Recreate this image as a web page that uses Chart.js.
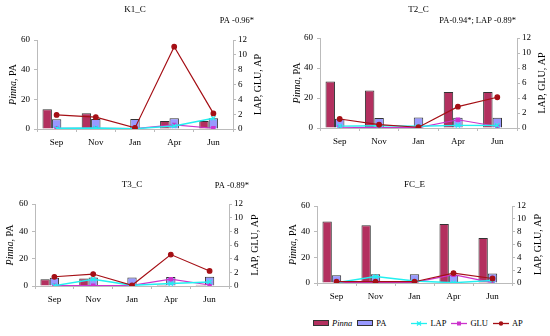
<!DOCTYPE html>
<html lang="en">
<head>
<meta charset="UTF-8">
<script src="https://cdn.jsdelivr.net/npm/chart.js"></script>
<title>Pinna, PA, LAP, GLU, AP</title>
<style>
  body { margin: 0; background: #fff; }
  #wrap { position: relative; width: 550px; height: 336px; }
  canvas { position: absolute; }
  #legend { position: absolute; left: 313px; top: 318px; display: flex; align-items: center;
            font: 8.5px "Liberation Serif", serif; color: #000; }
  #legend .item { display: flex; align-items: center; margin-right: 5px; }
  #legend .gap { width: 20px; }
</style>
</head>
<body>
<div id="wrap">
  <canvas id="c1" width="275" height="155" style="left:0;top:0"></canvas>
  <canvas id="c2" width="275" height="155" style="left:275px;top:0"></canvas>
  <canvas id="c3" width="275" height="150" style="left:0;top:160px"></canvas>
  <canvas id="c4" width="275" height="150" style="left:275px;top:160px"></canvas>
  <div id="legend"></div>
</div>
<script>
// months sampled
const months = ['Sep', 'Nov', 'Jan', 'Apr', 'Jun'];

// K1_C
const k1Pinna = [13.3, 10.6, 0, 5.4, 5.4];
const k1PA = [6.5, 6.8, 6.7, 7.2, 7.3];
const k1LAP = [0.1, 0.15, 0.05, 0.4, 1.45];
const k1GLU = [0.1, 0.1, 0.05, 0.55, 0.1];
const k1AP = [1.9, 1.6, 0.15, 11.1, 2.1];

// T2_C
const t2Pinna = [31, 25, 0, 24, 24];
const t2PA = [6.2, 6.6, 7, 6.8, 6.8];
const t2LAP = [0.25, 0.3, 0.25, 0.35, 0.35];
const t2GLU = [0.1, 0.05, 0.05, 1.1, 0.2];
const t2AP = [1.2, 0.45, 0.1, 2.85, 4.1];

// T3_C
const t3Pinna = [4.9, 5.5, 0, 1, 1];
const t3PA = [6, 6.3, 6.3, 6.5, 6.7];
const t3LAP = [0.05, 1.0, 0.1, 0.35, 0.6];
const t3GLU = [0.05, 0.05, 0.1, 1.0, 0.15];
const t3AP = [1.35, 1.75, 0.1, 4.6, 2.2];

// FC_E
const fcPinna = [48, 45, 0, 46, 35];
const fcPA = [6, 6.8, 6.8, 6.3, 7.5];
const fcLAP = [0.05, 1.0, 0.3, 0.05, 0.4];
const fcGLU = [0.05, 0.05, 0.1, 1.3, 0.05];
const fcAP = [0.2, 0.2, 0.2, 1.55, 0.7];

const colors = {
    pinna: '#B3305F',
    pa: '#9999FF',
    lap: '#22F0F0',
    glu: '#CC33CC',
    ap: '#A50F15'
};
const axisGray = '#BBBBBB';
const fontFamily = '"Liberation Serif", serif';

// draws panel title, correlation note and the two rotated axis titles
const panelText = {
    id: 'panelText',
    afterDraw(chart, args, o) {
        const ctx = chart.ctx;
        const a = chart.chartArea;
        const midY = (a.top + a.bottom) / 2;
        ctx.save();
        ctx.fillStyle = '#000';
        ctx.textBaseline = 'middle';
        ctx.font = '9px ' + fontFamily;
        ctx.textAlign = 'center';
        ctx.fillText(o.title, (a.left + a.right) / 2, o.titleY);
        if (o.note) {
            ctx.font = '8.5px ' + fontFamily;
            ctx.textAlign = 'right';
            ctx.fillText(o.note, o.noteX, o.noteY);
        }
        // left title: "Pinna" italic + ", PA"
        ctx.save();
        ctx.translate(o.leftX, midY);
        ctx.rotate(-Math.PI / 2);
        ctx.textAlign = 'left';
        const italic = 'italic 10px ' + fontFamily;
        const normal = '10px ' + fontFamily;
        ctx.font = italic;
        const w1 = ctx.measureText('Pinna').width;
        ctx.font = normal;
        const w2 = ctx.measureText(', PA').width;
        const x0 = -(w1 + w2) / 2;
        ctx.font = italic;
        ctx.fillText('Pinna', x0, 0);
        ctx.font = normal;
        ctx.fillText(', PA', x0 + w1, 0);
        ctx.restore();
        // right title, reads bottom to top
        ctx.save();
        ctx.translate(o.rightX, midY);
        ctx.rotate(-Math.PI / 2);
        ctx.textAlign = 'center';
        ctx.font = normal;
        ctx.fillText('LAP, GLU, AP', 0, 0);
        ctx.restore();
        ctx.restore();
    }
};

function makePanel(id, box, text, pinna, pa, lap, glu, ap) {
    const cv = document.getElementById(id);
    const W = cv.width, H = cv.height;
    return new Chart(cv, {
        type: 'bar',
        data: {
            labels: months,
            datasets: [
                { label: 'Pinna', data: pinna, backgroundColor: colors.pinna, borderColor: '#333',
                  borderWidth: 1, yAxisID: 'y', order: 2 },
                { label: 'PA', data: pa, backgroundColor: colors.pa, borderColor: '#333',
                  borderWidth: 1, yAxisID: 'y', order: 2 },
                // empty slot so PA sits on the category centre, like the original
                { label: '', data: [null, null, null, null, null], yAxisID: 'y', order: 2 },
                { type: 'line', label: 'LAP', data: lap, borderColor: colors.lap, backgroundColor: colors.lap,
                  borderWidth: 1.5, pointStyle: 'crossRot', pointRadius: 3, pointBorderWidth: 1.2,
                  yAxisID: 'y2', order: 1 },
                { type: 'line', label: 'GLU', data: glu, borderColor: colors.glu, backgroundColor: colors.glu,
                  borderWidth: 1.2, pointStyle: 'rect', pointRadius: 2.3, yAxisID: 'y2', order: 1 },
                { type: 'line', label: 'AP', data: ap, borderColor: colors.ap, backgroundColor: colors.ap,
                  borderWidth: 1.2, pointStyle: 'circle', pointRadius: 2.3, yAxisID: 'y2', order: 0 }
            ]
        },
        options: {
            responsive: false,
            animation: false,
            layout: { padding: { top: box.top, left: 0, right: 0, bottom: 0 } },
            datasets: { bar: { categoryPercentage: 0.72, barPercentage: 1 } },
            plugins: {
                legend: { display: false },
                tooltip: { enabled: false },
                panelText: text
            },
            scales: {
                x: {
                    grid: { drawOnChartArea: false, color: axisGray, tickLength: 3 },
                    border: { color: axisGray },
                    ticks: { color: '#000', font: { family: fontFamily, size: 9 }, padding: 5 },
                    afterFit(s) { s.height = H - box.bottom; }
                },
                y: {
                    position: 'left', min: 0, max: 60,
                    grid: { drawOnChartArea: false, color: axisGray, tickLength: 3 },
                    border: { color: axisGray },
                    ticks: { stepSize: 20, autoSkip: false, color: '#000',
                             font: { family: fontFamily, size: 9 }, padding: 4 },
                    afterFit(s) { s.width = box.left; }
                },
                y2: {
                    position: 'right', min: 0, max: 12,
                    grid: { drawOnChartArea: false, color: axisGray, tickLength: 3 },
                    border: { color: axisGray },
                    ticks: { stepSize: 2, autoSkip: false, color: '#000',
                             font: { family: fontFamily, size: 9 }, padding: 2 },
                    afterFit(s) { s.width = W - box.right; }
                }
            }
        },
        plugins: [panelText]
    });
}

makePanel('c1', { left: 37, right: 233, top: 40, bottom: 129 },
    { title: 'K1_C', titleY: 10, note: 'PA -0.96*', noteX: 254, noteY: 21, leftX: 13, rightX: 258 },
    k1Pinna, k1PA, k1LAP, k1GLU, k1AP);
makePanel('c2', { left: 45, right: 242, top: 38, bottom: 128 },
    { title: 'T2_C', titleY: 10, note: 'PA-0.94*; LAP -0.89*', noteX: 241, noteY: 21, leftX: 22, rightX: 267 },
    t2Pinna, t2PA, t2LAP, t2GLU, t2AP);
makePanel('c3', { left: 35, right: 229, top: 44, bottom: 126 },
    { title: 'T3_C', titleY: 25, note: 'PA -0.89*', noteX: 249, noteY: 26, leftX: 10, rightX: 255 },
    t3Pinna, t3PA, t3LAP, t3GLU, t3AP);
makePanel('c4', { left: 42, right: 237, top: 46, bottom: 123 },
    { title: 'FC_E', titleY: 25, note: '', noteX: 0, noteY: 0, leftX: 18, rightX: 263 },
    fcPinna, fcPA, fcLAP, fcGLU, fcAP);

// legend
const legendItems = [
    { name: 'Pinna', kind: 'bar', color: colors.pinna, italic: true },
    { name: 'PA', kind: 'bar', color: colors.pa },
    { gap: true },
    { name: 'LAP', kind: 'line', color: colors.lap, marker: 'x' },
    { name: 'GLU', kind: 'line', color: colors.glu, marker: 'rect' },
    { name: 'AP', kind: 'line', color: colors.ap, marker: 'circle' }
];
const legend = document.getElementById('legend');
legendItems.forEach(it => {
    if (it.gap) {
        const g = document.createElement('span');
        g.className = 'gap';
        legend.appendChild(g);
        return;
    }
    const item = document.createElement('span');
    item.className = 'item';
    let sw;
    if (it.kind === 'bar') {
        sw = '<svg width="17" height="7"><rect x="0.5" y="0.5" width="15" height="5" fill="' + it.color +
             '" stroke="#333" stroke-width="1"/></svg>';
    } else {
        let m = '';
        if (it.marker === 'x') m = '<path d="M6 1.5 L10 5.5 M10 1.5 L6 5.5" stroke="' + it.color + '" stroke-width="1.2"/>';
        if (it.marker === 'rect') m = '<rect x="6" y="1.5" width="4" height="4" fill="' + it.color + '"/>';
        if (it.marker === 'circle') m = '<circle cx="8" cy="3.5" r="2.2" fill="' + it.color + '"/>';
        sw = '<svg width="17" height="7"><line x1="0" y1="3.5" x2="16" y2="3.5" stroke="' + it.color +
             '" stroke-width="1.3"/>' + m + '</svg>';
    }
    item.innerHTML = sw + '<span style="margin-left:2px;' + (it.italic ? 'font-style:italic' : '') + '">' +
        it.name + '</span>';
    legend.appendChild(item);
});
</script>
</body>
</html>
